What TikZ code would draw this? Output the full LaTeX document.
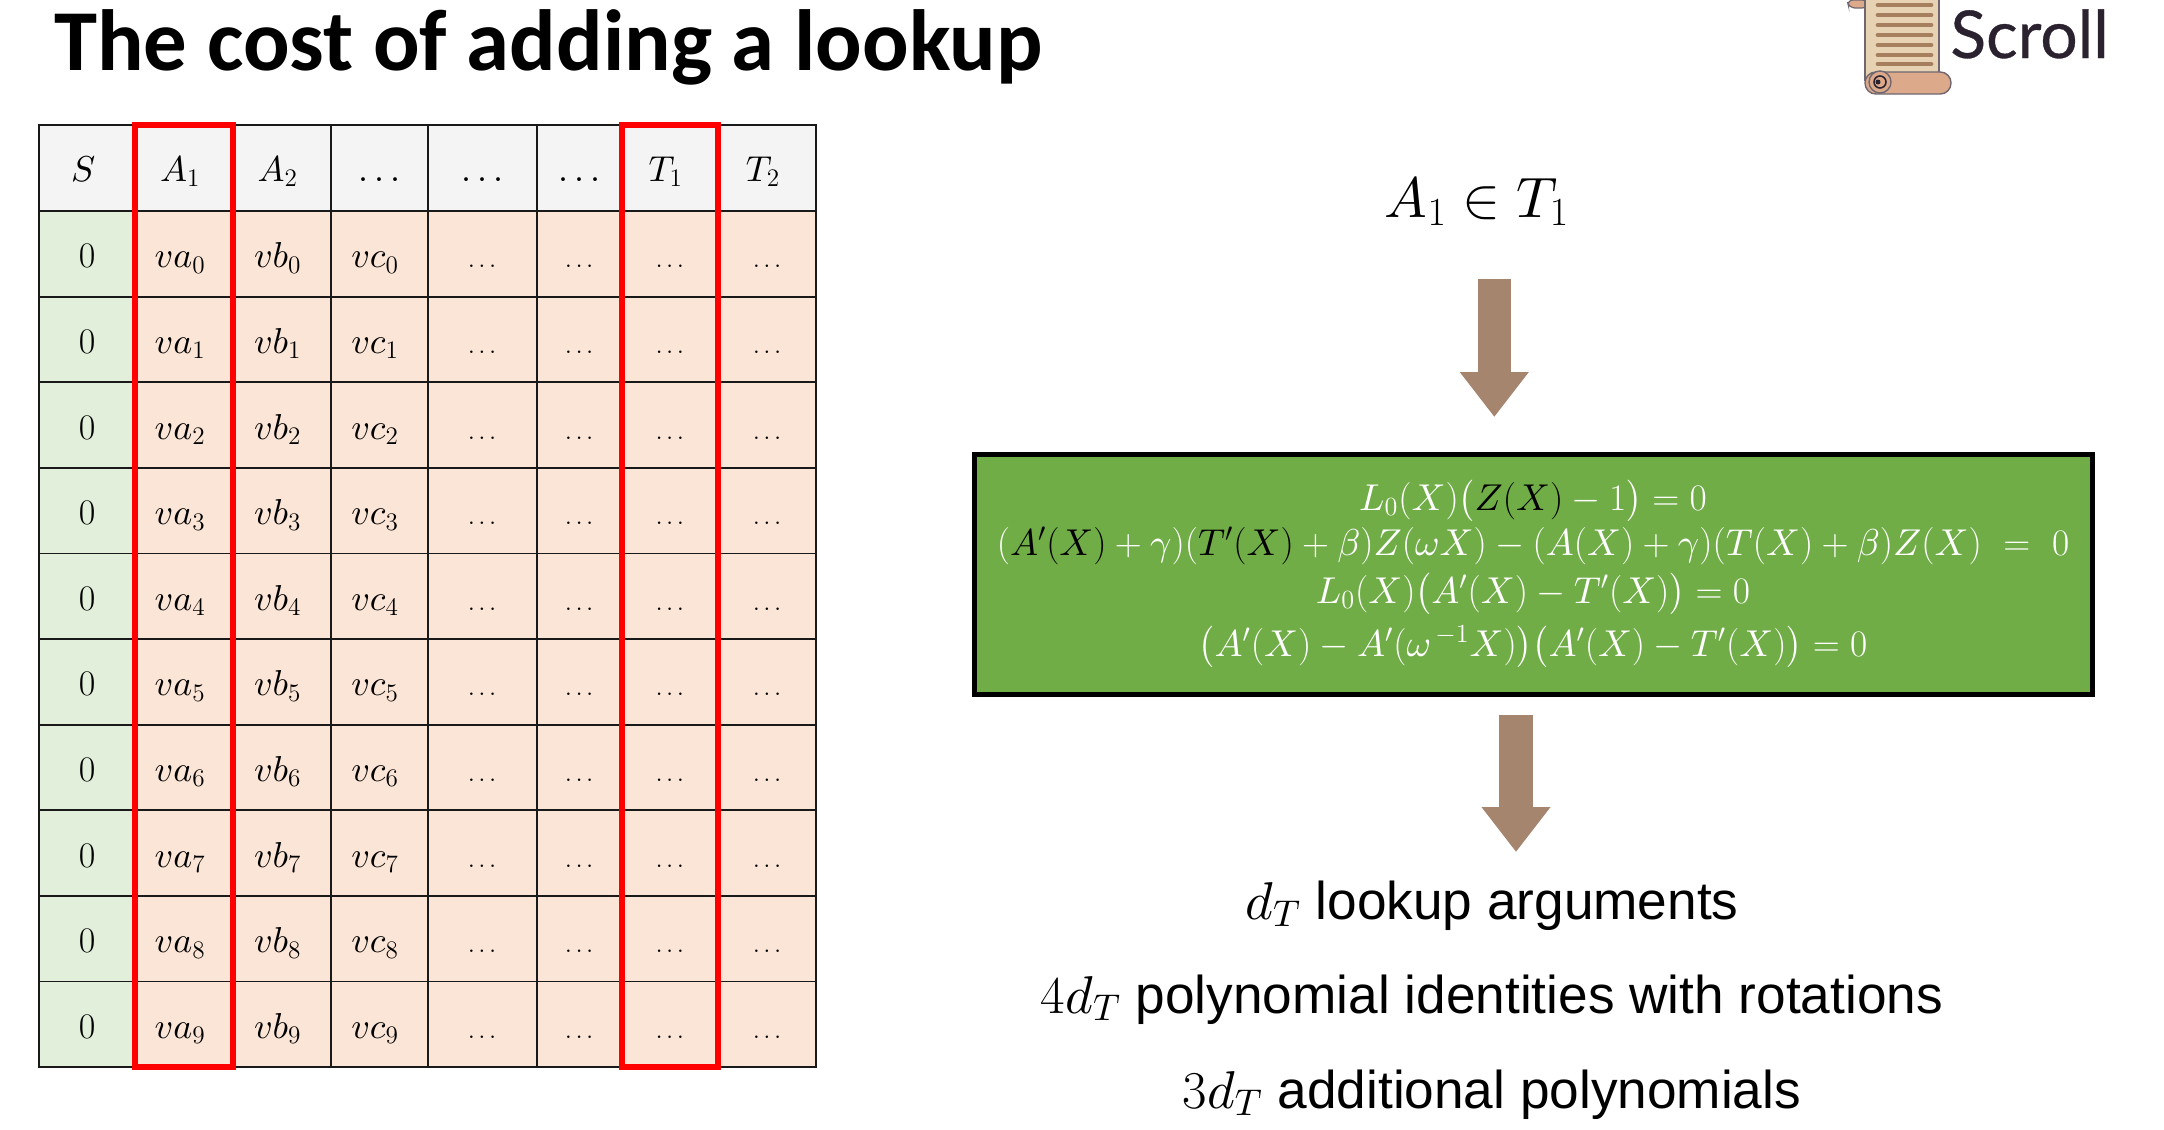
\documentclass[tikz,border=0pt]{standalone}
\usepackage{fix-cm}
\usepackage{amsmath}
\usepackage{fontspec}
\usepackage{tikz}
\usetikzlibrary{arrows.meta,fit,positioning,calc}
\newfontfamily\titlefont{Carlito}
\newfontfamily\bodyfont{Liberation Sans}
\newfontfamily\logofont[FakeBold=0.5]{Lato}
% sturdier math glyphs at large sizes
\DeclareFontFamily{OML}{cmst}{\skewchar\font=127}
\DeclareFontShape{OML}{cmst}{m}{it}{<->cmmi10}{}
\DeclareFontFamily{OT1}{cmst}{\hyphenchar\font=45}
\DeclareFontShape{OT1}{cmst}{m}{n}{<->cmr10}{}
\DeclareFontFamily{OMS}{cmst}{\skewchar\font=48}
\DeclareFontShape{OMS}{cmst}{m}{n}{<->cmsy10}{}
\SetSymbolFont{letters}{normal}{OML}{cmst}{m}{it}
\SetSymbolFont{operators}{normal}{OT1}{cmst}{m}{n}
\SetSymbolFont{symbols}{normal}{OMS}{cmst}{m}{n}
\definecolor{headfill}{HTML}{F4F4F4}
\definecolor{selfill}{HTML}{E2EFDA}
\definecolor{valfill}{HTML}{FBE5D6}
\definecolor{eqgreen}{HTML}{70AD47}
\definecolor{arrowbrown}{HTML}{A5856E}
\definecolor{logoink}{HTML}{2B2230}
\definecolor{logopaper}{HTML}{E7D3B4}
\definecolor{logoroll}{HTML}{DCAA8B}
\definecolor{logoline}{HTML}{A67F5E}
\definecolor{logoedge}{HTML}{6F6670}
\newcommand{\smalldots}{{\fontsize{12}{14}\selectfont$\ldots$}}
\newcommand{\lft}{\hspace*{-4pt}}
\tikzset{
	headcell/.style={
		draw=black!90, line width=0.9pt, fill=headfill, inner sep=0pt,
		minimum height=43pt, text height=17pt, text depth=4pt,
		font=\fontsize{18}{21}\selectfont
	},
	selcell/.style={headcell, fill=selfill, minimum height=42.8pt, text height=18pt, text depth=4pt},
	valcell/.style={selcell, fill=valfill},
	redcol/.style={draw=red, line width=3pt, inner sep=-0.4pt},
	eqbox/.style={draw=black, line width=2.5pt, fill=eqgreen, minimum width=559pt, minimum height=120pt},
	eqline/.style={anchor=base, inner sep=0pt, text=white, font=\fontsize{18.7}{22}\selectfont},
	costline/.style={anchor=base, inner sep=0pt, font=\bodyfont\fontsize{26.6}{32}\selectfont},
	blockarrow/.style={draw=arrowbrown, line width=16.8pt,
		-{Triangle[length=22.5pt,width=33pt]}}
}

\begin{document}
\begin{tikzpicture}[x=0.5pt,y=-0.5pt]
\useasboundingbox (0,0) rectangle (2164,1130);

\node[anchor=base west, inner sep=0pt, font=\titlefont\bfseries\fontsize{43.4}{50}\selectfont]
(TITLE) at (54,70) {The cost of adding a lookup};

%--------------------------- table ------------
\foreach \cid/\xl/\xr/\hd/\val/\cstyle in {
	cS/39/135.5/{\lft$S$}/{$0$}/selcell,
	cA1/135.5/233/{\lft$A_1$}/{\lft$va_{\r}$}/valcell,
	cA2/233/330.6/{\lft$A_2$}/{\lft$vb_{\r}$}/valcell,
	cA3/330.6/427.6/{$\ldots$}/{\lft$vc_{\r}$}/valcell,
	cA4/427.6/536.6/{$\ldots$}/{\smalldots}/valcell,
	cA5/536.6/621.7/{$\ldots$}/{\smalldots}/valcell,
	cT1/621.7/718/{\lft$T_1$}/{\smalldots}/valcell,
	cT2/718/816/{\lft$T_2$}/{\smalldots}/valcell}
{
	\node[headcell, minimum width={(\xr-\xl)*0.5pt}] (\cid-h) at ({(\xl+\xr)/2},168) {\hd};
	\foreach \r in {0,...,9} {
		\node[\cstyle, minimum width={(\xr-\xl)*0.5pt}] (\cid-\r) at ({(\xl+\xr)/2},{253.8+85.6*\r}) {\val};
	}
}

\node[redcol, fit=(cA1-h)(cA1-9)] (BOXA) {};
\node[redcol, fit=(cT1-h)(cT1-9)] (BOXT) {};

%--------------------------- right side ------------
\node[anchor=base, inner sep=0pt, font=\fontsize{28.5}{34}\selectfont]
(LOOKUP) at (1477,217) {$A_1 \in T_1$};

\node[eqbox] (EQBOX) at (1533,574) {};

\node[eqline] (EQ1) at (1533,510) {$L_0(X)\bigl(\textcolor{black}{Z(X)}-1\bigr)=0$};
\node[eqline] (EQ2) at (1533,555) {$(\textcolor{black}{A'(X)}+\gamma)(\textcolor{black}{T'(X)}+\beta)Z(\omega X)-(A(X)+\gamma)(T(X)+\beta)Z(X)\ =\ 0$};
\node[eqline] (EQ3) at (1533,603) {$L_0(X)\bigl(A'(X)-T'(X)\bigr)=0$};
\node[eqline] (EQ4) at (1533,656) {$\bigl(A'(X)-A'(\omega^{\,-1}X)\bigr)\bigl(A'(X)-T'(X)\bigr)=0$};

\coordinate (ARROW1A) at (1494.3,279);
\coordinate (ARROW1B) at (1494.3,417);
\coordinate (ARROW2A) at (1516,715);
\coordinate (ARROW2B) at (1516,852);
\draw[blockarrow] (ARROW1A) -- (ARROW1B);
\draw[blockarrow] (ARROW2A) -- (ARROW2B);

\node[costline] (COST1) at (1492,919) {$d_T$ lookup arguments};
\node[costline] (COST2) at (1492,1013) {$4d_T$ polynomial identities with rotations};
\node[costline] (COST3) at (1492,1108) {$3d_T$ additional polynomials};

%--------------------------- logo ------------
\draw[logoedge, fill=logoroll, line width=0.6pt, rounded corners=3pt] (1847,0) -- (1849,8) -- (1868,8) -- (1868,0) -- cycle;
\draw[logoedge, fill=logopaper, line width=0.7pt] (1865,0) -- (1865,80) -- (1939,80) -- (1939,0);
\foreach \ly in {5,15,25,35,45,55,64} {
	\draw[logoline, line width=2.4pt, line cap=round] (1878,\ly) -- (1931,\ly);
}
\draw[logoedge, fill=logoroll, line width=0.7pt, rounded corners=5.4pt] (1865,72) -- (1951,72) -- (1951,94) -- (1865,94) -- cycle;
\draw[logoedge, fill=logoroll, line width=0.7pt] (1880,82) circle (11);
\draw[logoink, line width=0.8pt] (1880,82) circle (6);
\fill[logoink] (1878,82) circle (2.5);
\node[anchor=base west, inner sep=0pt, text=logoink, font=\logofont\fontsize{33}{38}\selectfont]
(SCROLL) at (1950,58) {Scroll};

\end{tikzpicture}
\end{document}
